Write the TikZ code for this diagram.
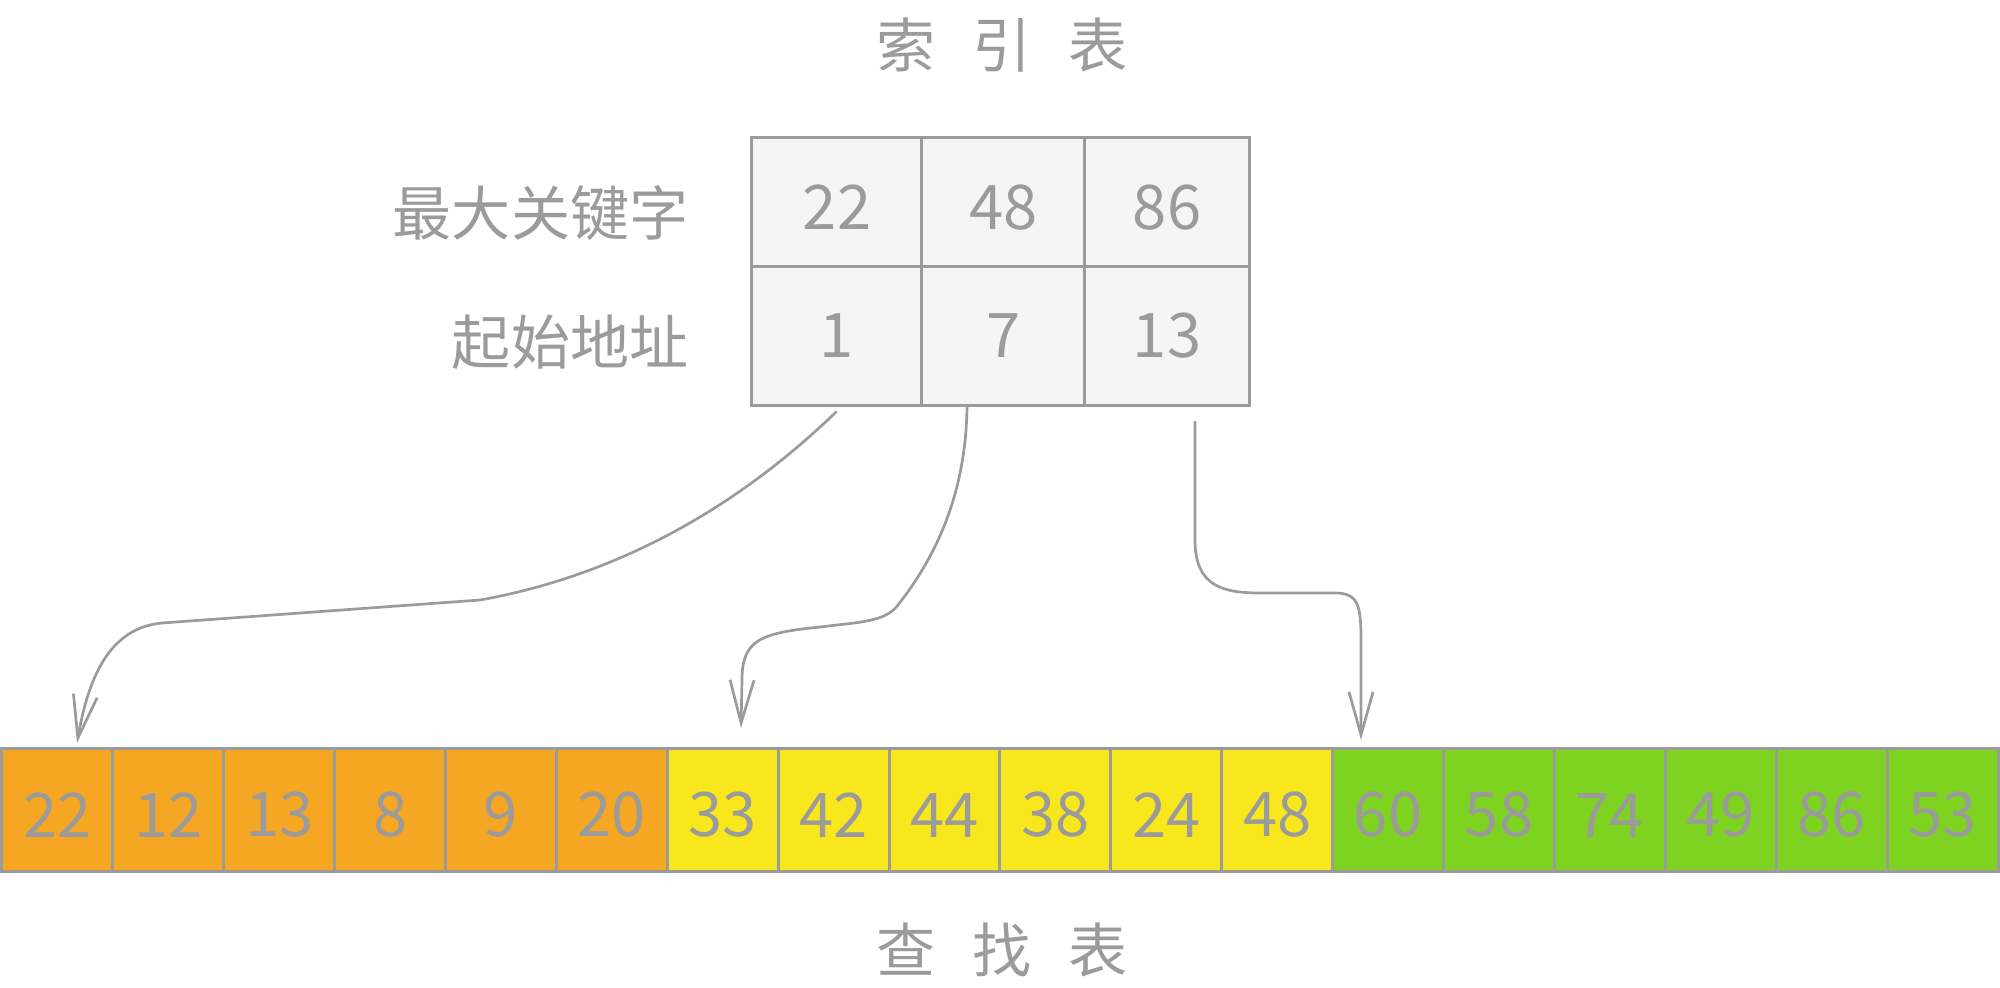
\documentclass[tikz,border=0pt]{standalone}
\usepackage{fontspec}
\setmainfont{Noto Sans CJK SC}
\usetikzlibrary{arrows.meta}
\definecolor{tgray}{HTML}{9B9B9B}
\definecolor{idxfill}{HTML}{F5F5F5}
\definecolor{cOr}{HTML}{F5A623}
\definecolor{cYe}{HTML}{F8E71C}
\definecolor{cGr}{HTML}{7ED321}
\tikzset{
  txt/.style={text=tgray, font=\fontsize{16.8pt}{20pt}\selectfont},
  num/.style={text=tgray, font=\fontsize{17.5pt}{20pt}\selectfont},
  low/.style={text height=0.54cm},
  icell/.style={num, draw=tgray, line width=0.03cm, fill=idxfill, inner sep=0pt, outer sep=0pt},
  scell/.style={num, low, draw=tgray, line width=0.03cm, inner sep=0pt, outer sep=0pt,
    minimum width=1.1089cm, minimum height=1.22cm},
  link/.style={draw=tgray, line width=0.027cm, line cap=round,
    -{Straight Barb[length=0.43cm,width=0.24cm]}}
}
\begin{document}
\begin{tikzpicture}[x=0.01cm,y=-0.01cm]
\useasboundingbox (0,0) rectangle (2000,987);
% titles
\node[txt] (t1) at (1002,45) {索\hspace{0.37cm}引\hspace{0.37cm}表};
\node[txt] (t2) at (1002,950) {查\hspace{0.37cm}找\hspace{0.37cm}表};
% index table
\node[icell, low, minimum width=1.70cm, minimum height=1.29cm] (i11) at (837,202.5) {22};
\node[icell, low, minimum width=1.63cm, minimum height=1.29cm] (i12) at (1003.5,202.5) {48};
\node[icell, low, minimum width=1.64cm, minimum height=1.29cm] (i13) at (1167,202.5) {86};
\node[icell, minimum width=1.70cm, minimum height=1.38cm] (i21) at (837,336) {1};
\node[icell, minimum width=1.63cm, minimum height=1.38cm] (i22) at (1003.5,336) {7};
\node[icell, minimum width=1.64cm, minimum height=1.38cm] (i23) at (1167,336) {13};
\node[txt, inner sep=0pt, anchor=east] (lk) at (689,213) {最大关键字};
\node[txt, inner sep=0pt, anchor=east] (la) at (689,342) {起始地址};
% search table
\foreach \v/\c [count=\i] in {22/cOr,12/cOr,13/cOr,8/cOr,9/cOr,20/cOr,
  33/cYe,42/cYe,44/cYe,38/cYe,24/cYe,48/cYe,
  60/cGr,58/cGr,74/cGr,49/cGr,86/cGr,53/cGr}{
  \node[scell, fill=\c] (s\i) at ({2+110.89*(\i-0.5)},810) {\v};
}
% connectors
\coordinate (a1s) at (836,412);
\coordinate (a1e) at (77,743);
\coordinate (a2s) at (967,407);
\coordinate (a2e) at (741,728);
\coordinate (a3s) at (1195,422);
\coordinate (a3e) at (1361,740);
\draw[link] (a1s) .. controls (740,505) and (620,575) .. (480,600) -- (162,623)
  .. controls (108,628) and (88,680) .. (a1e);
\draw[link] (a2s) .. controls (966,480) and (945,545) .. (898,605)
  .. controls (885,622) and (860,622) .. (820,627)
  .. controls (760,633) and (742,640) .. (742,680) -- (a2e);
\draw[link] (a3s) -- (1195,540) .. controls (1195,588) and (1225,593) .. (1262,593)
  -- (1335,593) .. controls (1358,593) and (1361,605) .. (1361,640) -- (a3e);
\end{tikzpicture}
\end{document}
